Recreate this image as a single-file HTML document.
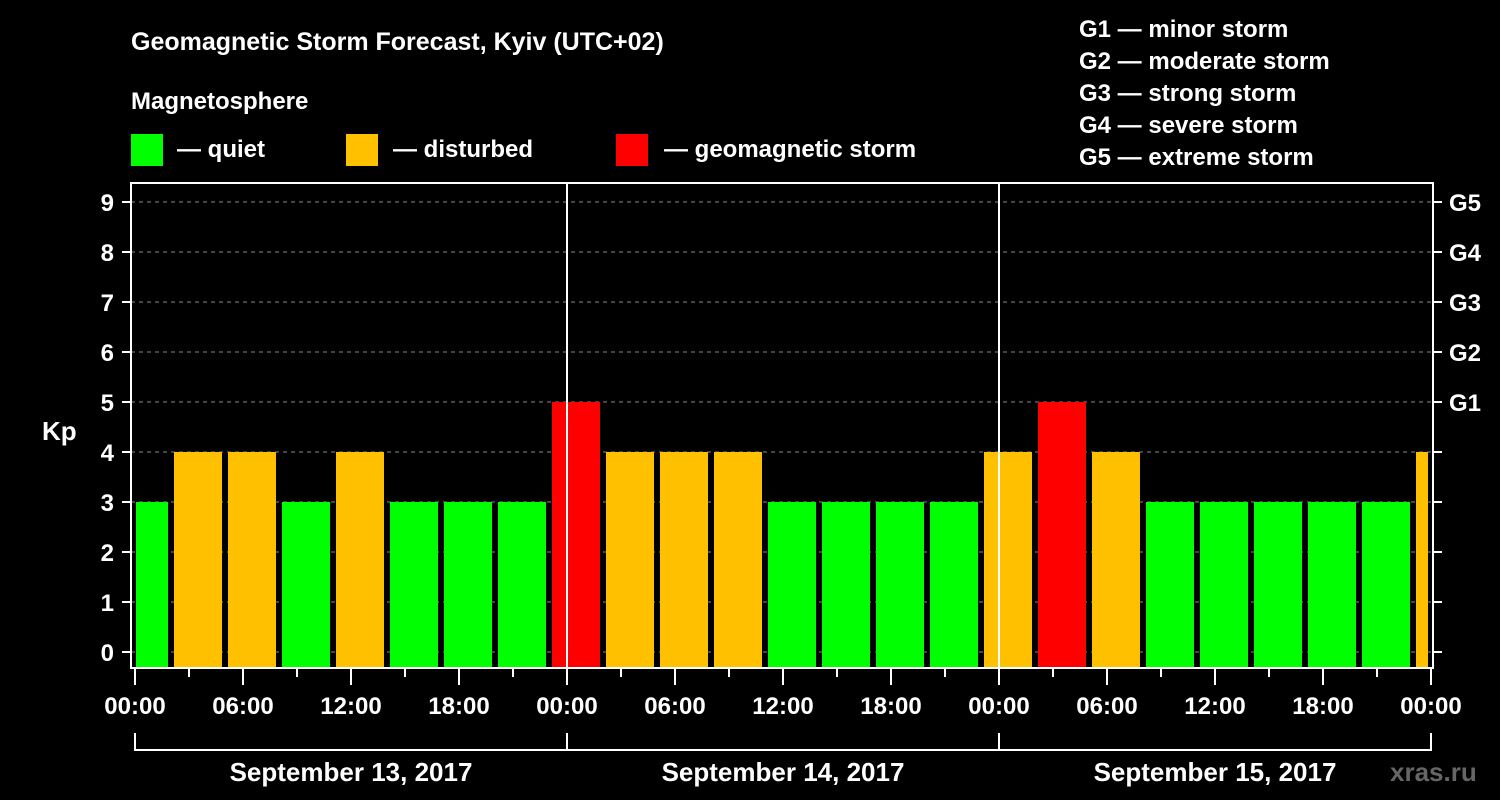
<!DOCTYPE html>
<html><head><meta charset="utf-8"><style>
html,body{margin:0;padding:0;background:#000;}
svg{display:block;font-family:"Liberation Sans",Arial,sans-serif;font-weight:bold;}
</style></head><body>
<svg id="c" width="1500" height="800" viewBox="0 0 1500 800">
<text x="131" y="50" fill="#fff" font-size="25">Geomagnetic Storm Forecast, Kyiv (UTC+02)</text>
<text x="131" y="109" fill="#fff" font-size="24">Magnetosphere</text>
<g><rect x="131" y="134" width="32" height="32" fill="#00ff00"/><text x="177" y="157" fill="#fff" font-size="24">— quiet</text></g>
<g><rect x="346" y="134" width="32" height="32" fill="#ffc000"/><text x="393" y="157" fill="#fff" font-size="24">— disturbed</text></g>
<g><rect x="616" y="134" width="32" height="32" fill="#ff0000"/><text x="664" y="157" fill="#fff" font-size="24">— geomagnetic storm</text></g>
<g fill="#fff" font-size="24">
<text x="1079" y="37">G1 — minor storm</text>
<text x="1079" y="69">G2 — moderate storm</text>
<text x="1079" y="101">G3 — strong storm</text>
<text x="1079" y="133">G4 — severe storm</text>
<text x="1079" y="165">G5 — extreme storm</text>
</g>
<text x="42" y="440" fill="#fff" font-size="26">Kp</text>
<text x="1390" y="781" fill="#666" font-size="26">xras.ru</text>
<g id="grid"></g><g id="bars"></g><g id="axes"></g>
</svg>
<script>
const kpValues=[3,4,4,3,4,3,3,3,5,4,4,4,3,3,3,3,4,5,4,3,3,3,3,3,4];
const yTicks=[0,1,2,3,4,5,6,7,8,9];
const gLabels=["G1","G2","G3","G4","G5"];
const timeLabels=["00:00","06:00","12:00","18:00"];
const dayLabels=["September 13, 2017","September 14, 2017","September 15, 2017"];
const NS="http://www.w3.org/2000/svg";
const x0=135,dayW=432,hourW=dayW/24,plotL=131,plotR=1433,plotT=183,plotB=668;
const y=v=>652-50*v; const xh=h=>x0+h*hourW;
function mk(t,a,p){const e=document.createElementNS(NS,t);for(const k in a)e.setAttribute(k,a[k]);(p||document.getElementById('c')).appendChild(e);return e;}
const grid=document.getElementById('grid'),bars=document.getElementById('bars'),axes=document.getElementById('axes');
yTicks.forEach(v=>{const l=mk('line',{x1:plotL,x2:plotR,y1:y(v),y2:y(v),stroke:'#888','stroke-dasharray':'4,4','stroke-width':1},grid);

});
kpValues.forEach((v,k)=>{const c=v>=5?'#ff0000':(v>=4?'#ffc000':'#00ff00');
let a=xh(3*k)-15,b=xh(3*k)+33;a=Math.max(a,x0+1);b=Math.min(b,xh(72)-3);
const r=mk('rect',{x:a,y:y(v),width:b-a,height:plotB-y(v),fill:c},bars);

});
for(let d=1;d<3;d++){const l=mk('line',{x1:x0+d*dayW,x2:x0+d*dayW,y1:plotT,y2:plotB,stroke:'#fff','stroke-width':2},axes);

}
const fr=mk('rect',{x:plotL,y:plotT,width:plotR-plotL,height:plotB-plotT,fill:'none',stroke:'#fff','stroke-width':2},axes);


yTicks.forEach(v=>{mk('line',{x1:122,x2:plotL,y1:y(v),y2:y(v),stroke:'#fff','stroke-width':2},axes);
mk('line',{x1:plotR,x2:1442,y1:y(v),y2:y(v),stroke:'#fff','stroke-width':2},axes);
const t=mk('text',{x:114,y:y(v)+9,fill:'#fff','font-size':24,'text-anchor':'end'},axes);t.textContent=v;


if(v>=5){const g=mk('text',{x:1449,y:y(v)+9,fill:'#fff','font-size':24},axes);g.textContent=gLabels[v-5];

}});
for(let h=0;h<=72;h+=3){const major=h%6===0;mk('line',{x1:xh(h),x2:xh(h),y1:plotB,y2:major?685:677,stroke:'#fff','stroke-width':2},axes);
if(major){const t=mk('text',{x:xh(h),y:714,fill:'#fff','font-size':24,'text-anchor':'middle'},axes);t.textContent=timeLabels[(h/6)%4];

}}
mk('line',{x1:x0,x2:xh(72),y1:750,y2:750,stroke:'#fff','stroke-width':2},axes);
for(let d=0;d<=3;d++)mk('line',{x1:x0+d*dayW,x2:x0+d*dayW,y1:733,y2:751,stroke:'#fff','stroke-width':2},axes);
dayLabels.forEach((s,d)=>{const t=mk('text',{x:x0+d*dayW+dayW/2,y:781,fill:'#fff','font-size':26,'text-anchor':'middle'},axes);t.textContent=s;

});
</script>
</body></html>
